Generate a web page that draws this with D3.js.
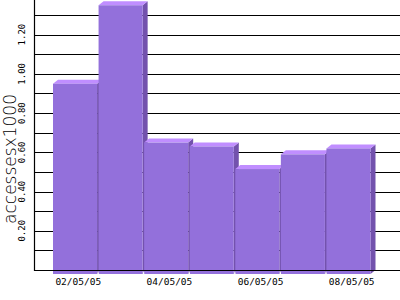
<!DOCTYPE html>
<html>
<head>
<meta charset="utf-8">
<script src="https://cdn.jsdelivr.net/npm/d3@7"></script>
<style>
  body { margin: 0; background: #fff; }
</style>
</head>
<body>
<div id="chart"></div>
<script>
const dates = ['02/05/05', '03/05/05', '04/05/05', '05/05/05', '06/05/05', '07/05/05', '08/05/05']
const accesses = [0.97, 1.37, 0.67, 0.65, 0.535, 0.61, 0.64]
const gridValues = [0.1, 0.2, 0.3, 0.4, 0.5, 0.6, 0.7, 0.8, 0.9, 1.0, 1.1, 1.2, 1.3]
const tickLabels = ['0.20', '0.40', '0.60', '0.80', '1.00', '1.20']
const shownDates = ['02/05/05', '04/05/05', '06/05/05', '08/05/05']

const width = 400
const height = 300
const depthX = 5
const depthY = 4

const svg = d3.select('#chart')
  .append('svg')
  .attr('width', width)
  .attr('height', height)

const x = d3.scaleBand().domain(dates).range([58, 377]).padding(0)
const y = d3.scaleLinear().domain([0, 1.3]).range([270, 15])

// grid lines in the back plane
svg.selectAll('.grid')
  .data(gridValues)
  .enter()
  .append('line')
  .attr('x1', 34)
  .attr('x2', width)
  .attr('y1', d => Math.round(y(d)) + 0.5)
  .attr('y2', d => Math.round(y(d)) + 0.5)
  .attr('stroke', '#000')
  .attr('stroke-width', 1.2)

// bars, front face shifted down-left from the back plane
const bw = x.bandwidth() - 1.5
const bars = svg.selectAll('.bar')
  .data(dates.map((d, i) => ({ date: d, value: accesses[i] })))
  .enter()
  .append('g')
  .attr('class', 'bar')

bars.each(function(d) {
  const g = d3.select(this)
  const fx = x(d.date) - depthX
  const fTop = y(d.value) + depthY
  const fBot = y(0) + depthY
  // side
  g.append('path')
    .attr('d', `M${fx + bw},${fTop} L${fx + bw + depthX},${fTop - depthY} L${fx + bw + depthX},${fBot - depthY} L${fx + bw},${fBot} Z`)
    .attr('fill', '#7352ad')
  // top
  g.append('path')
    .attr('d', `M${fx},${fTop} L${fx + depthX},${fTop - depthY} L${fx + bw + depthX},${fTop - depthY} L${fx + bw},${fTop} Z`)
    .attr('fill', '#c08eff')
  // front
  g.append('rect')
    .attr('x', fx)
    .attr('y', fTop)
    .attr('width', bw)
    .attr('height', fBot - fTop)
    .attr('fill', '#9370db')
})

// baseline and y axis line
svg.append('line')
  .attr('x1', 34).attr('x2', width)
  .attr('y1', 270.5).attr('y2', 270.5)
  .attr('stroke', '#000').attr('stroke-width', 1.2)

svg.append('line')
  .attr('x1', 34.5).attr('x2', 34.5)
  .attr('y1', 0).attr('y2', 271)
  .attr('stroke', '#000').attr('stroke-width', 1.2)

// small white ticks under the baseline between bars
svg.selectAll('.xtick')
  .data(dates.slice(1))
  .enter()
  .append('line')
  .attr('x1', d => x(d) - depthX - 0.5)
  .attr('x2', d => x(d) - depthX - 0.5)
  .attr('y1', 271.5)
  .attr('y2', 275)
  .attr('stroke', '#fff')
  .attr('stroke-width', 1)

// y tick labels, rotated
svg.selectAll('.ylabel')
  .data(tickLabels)
  .enter()
  .append('text')
  .text(d => d)
  .attr('transform', d => `translate(25,${y(+d)}) rotate(-90)`)
  .attr('text-anchor', 'middle')
  .attr('font-family', 'DejaVu Sans Mono')
  .attr('font-size', 9)
  .attr('fill', '#000')

// x labels
svg.selectAll('.xlabel')
  .data(shownDates)
  .enter()
  .append('text')
  .text(d => d)
  .attr('x', d => x(d) + x.bandwidth() / 2 - 2.5)
  .attr('y', 285)
  .attr('text-anchor', 'middle')
  .attr('font-family', 'DejaVu Sans Mono')
  .attr('font-size', 9.5)
  .attr('fill', '#000')

// axis title
svg.append('text')
  .text('accessesx1000')
  .attr('transform', 'translate(16,159) rotate(-90)')
  .attr('text-anchor', 'middle')
  .attr('font-family', 'DejaVu Sans')
  .attr('font-weight', 200)
  .attr('font-size', 17)
  .attr('fill', '#000')
</script>
</body>
</html>
